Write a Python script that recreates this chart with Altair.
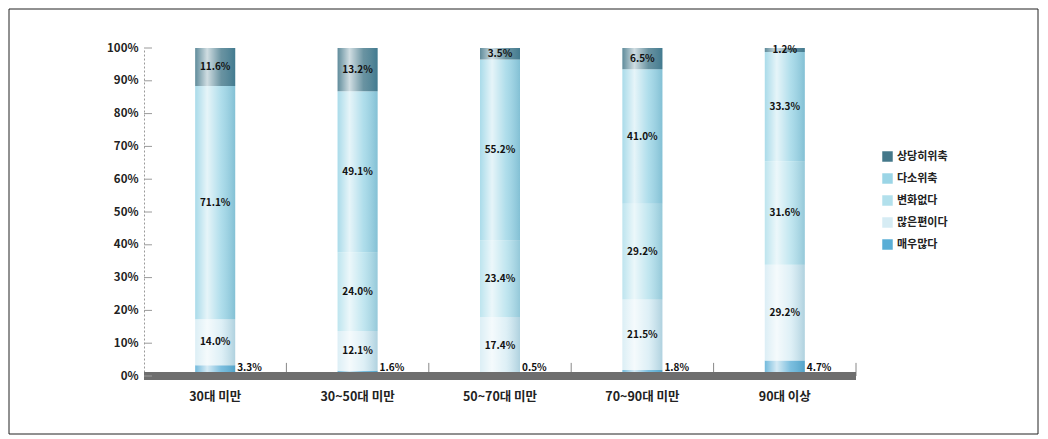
import altair as alt
import pandas as pd

categories = ["30대 미만", "30~50대 미만", "50~70대 미만", "70~90대 미만", "90대 이상"]
# stacking order, bottom to top
series = ["매우많다", "많은편이다", "변화없다", "다소위축", "상당히위축"]
v_maeu = [3.3, 1.6, 0.5, 1.8, 4.7]
v_maneun = [14.0, 12.1, 17.4, 21.5, 29.2]
v_byeonhwa = [0.0, 24.0, 23.4, 29.2, 31.6]
v_daso = [71.1, 49.1, 55.2, 41.0, 33.3]
v_sangdang = [11.6, 13.2, 3.5, 6.5, 1.2]
y_ticks = [0, 10, 20, 30, 40, 50, 60, 70, 80, 90, 100]

values = [v_maeu, v_maneun, v_byeonhwa, v_daso, v_sangdang]
rows = []
for ci, c in enumerate(categories):
    base = 0.0
    for si, s in enumerate(series):
        v = values[si][ci]
        rows.append({"cat": c, "series": s, "value": v, "y0": base, "y1": base + v,
                     "mid": base + v / 2, "label": f"{v:.1f}%"})
        base += v
df = pd.DataFrame(rows)

legend_order = ["상당히위축", "다소위축", "변화없다", "많은편이다", "매우많다"]
colors = ["#44788a", "#9bd5e6", "#b2e0ec", "#d6ecf4", "#5aaed6"]

FONT = "Noto Sans CJK KR"
W, H = 712, 328

xaxis = alt.Axis(title=None, domain=False, ticks=False, labelAngle=0,
                 labelPadding=14, labelFontSize=12.5, labelFontWeight="bold",
                 labelColor="#222", labelFont=FONT)
yaxis = alt.Axis(title=None, values=y_ticks, labelExpr="datum.value + '%'",
                 ticks=False, grid=False, domainColor="#9a9a9a", domainDash=[2, 2],
                 labelFontSize=11.5, labelFontWeight="bold", labelColor="#222",
                 labelFont=FONT, labelPadding=6, labelOverlap=False)
xscale = alt.Scale(paddingInner=0.0, paddingOuter=0.0)
yscale = alt.Scale(domain=[0, 100], nice=False)


def X(field="cat:N", **kw):
    return alt.X(field, sort=categories, scale=xscale, axis=xaxis, **kw)


def Y(field):
    return alt.Y(field, scale=yscale, axis=yaxis)


bars = alt.Chart(df).mark_bar(size=40).encode(
    x=X(),
    y=Y("y0:Q"),
    y2="y1:Q",
    color=alt.Color("series:N", scale=alt.Scale(domain=legend_order, range=colors),
                    legend=alt.Legend(title=None, orient="none", legendX=738, legendY=103,
                                      symbolType="square", symbolSize=110, symbolStrokeWidth=0,
                                      labelFontSize=11, labelFont=FONT, labelColor="#222",
                                      labelFontWeight="bold", rowPadding=10)),
)

totals = pd.DataFrame({"cat": categories, "lo": [0] * 5, "hi": [100] * 5})
shine = alt.Chart(totals).mark_bar(size=40, fill=alt.Gradient(
    gradient="linear", x1=0, x2=1, y1=0, y2=0,
    stops=[alt.GradientStop(color="rgba(255,255,255,0.15)", offset=0),
           alt.GradientStop(color="rgba(255,255,255,0.75)", offset=0.3),
           alt.GradientStop(color="rgba(255,255,255,0.2)", offset=0.65),
           alt.GradientStop(color="rgba(60,130,160,0.25)", offset=1)])).encode(
    x=X(), y=Y("lo:Q"), y2="hi:Q")

main_labels = alt.Chart(df[(df.series != "매우많다") & (df.value > 0)]).mark_text(
    fontSize=10, fontWeight="bold", font=FONT, color="#111").encode(
    x=X(), y=Y("mid:Q"), text="label:N")

small_df = df[df.series == "매우많다"].assign(pos=0)
small_labels = alt.Chart(small_df).mark_text(
    fontSize=10, fontWeight="bold", font=FONT, color="#111", align="left", dx=22, dy=-8).encode(
    x=X(), y=Y("pos:Q"), text="label:N")

base_df = pd.DataFrame({"z": [0]})
baseline = alt.Chart(base_df).mark_rule(strokeWidth=8, color="#6e6e6e").encode(
    y=Y("z:Q"))

bound_ticks = alt.Chart(totals).mark_rule(color="#888", strokeWidth=1).encode(
    x=X(bandPosition=1),
    y=Y("lo:Q"), y2=alt.datum(4))

ytick_df = pd.DataFrame({"t": y_ticks})
yticks = alt.Chart(ytick_df).mark_rule(color="#9a9a9a", strokeWidth=1).encode(
    y=Y("t:Q"), x=alt.value(0), x2=alt.value(8))

frame = alt.Chart(base_df).mark_rect(filled=False, stroke="#222", strokeWidth=1).encode(
    x=alt.value(-135), x2=alt.value(894), y=alt.value(-39), y2=alt.value(386))

chart = alt.layer(bars, frame, shine, bound_ticks, baseline, yticks, main_labels, small_labels).properties(
    width=W, height=H, padding=0, background="white"
).configure_view(stroke=None)

chart.save("out.html", embed_options={"renderer": "svg", "actions": False})
